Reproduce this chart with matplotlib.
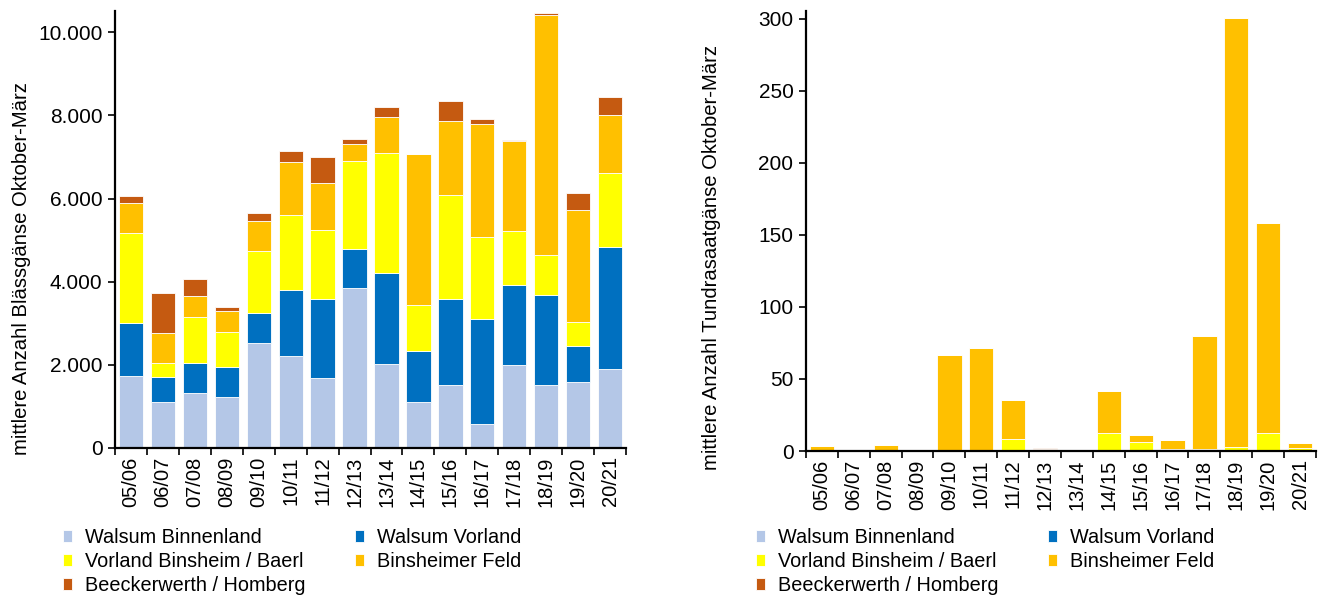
import matplotlib
matplotlib.use("Agg")
import matplotlib.pyplot as plt
from matplotlib.ticker import FuncFormatter, FixedLocator
import numpy as np

plt.rcParams['font.family'] = ['Liberation Sans', 'DejaVu Sans']

seasons = ["05/06", "06/07", "07/08", "08/09", "09/10", "10/11", "11/12", "12/13",
           "13/14", "14/15", "15/16", "16/17", "17/18", "18/19", "19/20", "20/21"]
series_names = ["Walsum Binnenland", "Walsum Vorland", "Vorland Binsheim / Baerl",
                "Binsheimer Feld", "Beeckerwerth / Homberg"]
colors = ["#B4C7E7", "#0070C0", "#FFFF00", "#FFC000", "#C55A11"]

# Blässgänse (left)
bl_walsum_binnen = [1726, 1108, 1332, 1220, 2528, 2207, 1677, 3852, 2015, 1116, 1525, 578, 1998, 1509, 1589, 1902]
bl_walsum_vorland = [1284, 602, 707, 738, 723, 1597, 1903, 923, 2199, 1220, 2055, 2528, 1927, 2175, 875, 2930]
bl_binsheim_baerl = [2151, 337, 1107, 827, 1484, 1798, 1661, 2135, 2881, 1107, 2504, 1974, 1300, 963, 562, 1781]
bl_binsheimer_feld = [730, 722, 514, 522, 731, 1284, 1124, 402, 875, 3628, 1773, 2713, 2151, 5779, 2705, 1389]
bl_beeck_homberg = [169, 947, 401, 80, 184, 265, 634, 120, 241, 0, 498, 121, 32, 40, 393, 449]

# Tundrasaatgänse (right)
tu_walsum_binnen = [0] * 16
tu_walsum_vorland = [0] * 16
tu_binsheim_baerl = [1.0, 0, 0, 0, 0, 0, 8.1, 0, 0, 12.5, 6.0, 1.2, 1.4, 2.8, 12.3, 2.3]
tu_binsheimer_feld = [2.2, 0, 4.0, 0, 66.8, 71.2, 27.1, 1.2, 0, 28.9, 4.9, 6.7, 78.2, 298.0, 145.7, 3.3]
tu_beeck_homberg = [0, 0, 0.4, 0, 0, 0, 0, 0.6, 0, 0, 0, 0, 0, 0, 0, 0]

left_series = [bl_walsum_binnen, bl_walsum_vorland, bl_binsheim_baerl, bl_binsheimer_feld, bl_beeck_homberg]
right_series = [tu_walsum_binnen, tu_walsum_vorland, tu_binsheim_baerl, tu_binsheimer_feld, tu_beeck_homberg]

FS_Y = 15
FS_X = 14.5
FS_LAB = 14.6
FS_LEG = 14.3

fig = plt.figure(figsize=(13.25, 5.95), dpi=100)
ax1 = fig.add_axes([0.0868, 0.2471, 0.3857, 0.7336])
ax2 = fig.add_axes([0.6083, 0.2420, 0.3849, 0.7387])


def draw(ax, series, ymax, yticks, fmt, ylabel, bar_w):
    x = np.arange(len(seasons))
    bottom = np.zeros(len(seasons))
    handles = []
    for vals, c, name in zip(series, colors, series_names):
        v = np.asarray(vals, dtype=float)
        h = ax.bar(x, v, bar_w, bottom=bottom, color=c, edgecolor="white",
                   linewidth=0.6, label=name)
        handles.append(h)
        bottom += v
    ax.set_xlim(-0.5, len(seasons) - 0.5)
    ax.set_ylim(0, ymax)
    ax.set_yticks(yticks)
    ax.yaxis.set_major_formatter(FuncFormatter(fmt))
    ax.set_xticks(x)
    ax.set_xticklabels(seasons, rotation=90, fontsize=FS_X)
    ax.xaxis.set_minor_locator(FixedLocator(np.arange(-0.5, len(seasons), 1.0)))
    ax.tick_params(axis="x", which="major", length=0, pad=6)
    ax.tick_params(axis="x", which="minor", length=5, width=1.2, direction="out")
    ax.tick_params(axis="y", length=5, width=1.2, direction="out", labelsize=FS_Y, pad=4)
    for s in ["top", "right"]:
        ax.spines[s].set_visible(False)
    for s in ["left", "bottom"]:
        ax.spines[s].set_linewidth(1.6)
        ax.spines[s].set_color("black")
    ax.set_ylabel(ylabel, fontsize=FS_LAB)
    return handles


def thousands(v, pos):
    return f"{int(v):,}".replace(",", ".")


h1 = draw(ax1, left_series, 10500, [0, 2000, 4000, 6000, 8000, 10000], thousands,
          "mittlere Anzahl Blässgänse Oktober-März", 0.76)
h2 = draw(ax2, right_series, 305, [0, 50, 100, 150, 200, 250, 300], lambda v, p: f"{int(v)}",
          "mittlere Anzahl Tundrasaatgänse Oktober-März", 0.76)
ax1.yaxis.set_label_coords(-0.165, 0.41)
ax2.yaxis.set_label_coords(-0.167, 0.441)

order = [0, 2, 4, 1, 3]
for hs, xpos in [(h1, 0.0475), (h2, 0.5705)]:
    fig.legend([hs[i] for i in order], [series_names[i] for i in order],
               ncol=2, loc="upper left", bbox_to_anchor=(xpos, 0.112),
               frameon=False, fontsize=FS_LEG, handlelength=0.45, handleheight=0.55,
               handletextpad=0.65, labelspacing=0.25, columnspacing=2.5,
               borderpad=0, borderaxespad=0)

fig.savefig("out.png", dpi=100)
